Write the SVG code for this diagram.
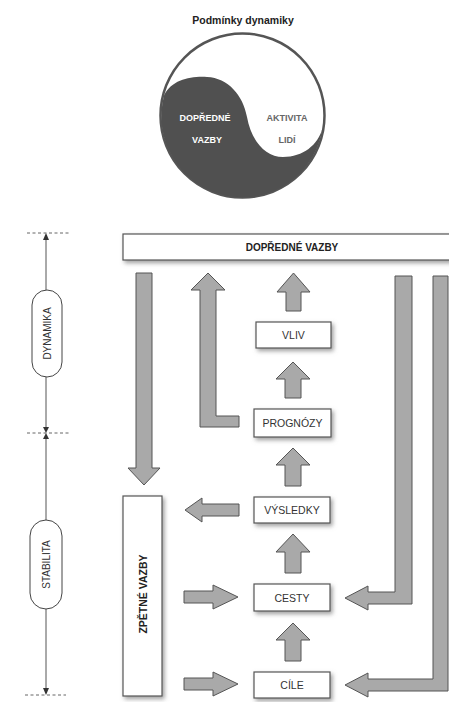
<svg xmlns="http://www.w3.org/2000/svg" width="449" height="702" viewBox="0 0 449 702">
<style>
.t{font-family:"Liberation Sans",Arial,sans-serif;text-anchor:middle}
.box{fill:#fff;stroke:#555;stroke-width:1.2}
.lbl{font-size:10.5px;fill:#333}
.b{font-weight:bold}
.arr{fill:#a9a9a9;stroke:#555;stroke-width:1;stroke-linejoin:miter}
.pill{fill:#fff;stroke:#444;stroke-width:1}
.dash{stroke:#666;stroke-width:1;stroke-dasharray:3,2.5}
.ax{stroke:#555;stroke-width:1;fill:none}
.tri{fill:#333}
</style>
<defs>
<filter id="sh" x="-20%" y="-30%" width="150%" height="180%">
<feDropShadow dx="2" dy="2.5" stdDeviation="2" flood-color="#777" flood-opacity="0.7"/>
</filter>
</defs>
<rect width="449" height="702" fill="#fff"/>

<g id="yinyang">
<text class="t b" x="243" y="24" style="font-size:10.5px;fill:#222">Podmínky dynamiky</text>
<circle cx="242.5" cy="115.5" r="82" fill="#fff" stroke="#555" stroke-width="2.5"/>
<path d="M164.2,95 C172,80 190,76 207,77 C228,78 243,95 247,117 C251,140 265,157 283,157 C303,157 318,145 322.5,128 A81,81 0 1 1 164.2,95 Z" fill="#505050"/>
<text class="t b" x="205" y="121" style="font-size:9px;fill:#fff">DOPŘEDNÉ</text>
<text class="t b" x="207" y="143" style="font-size:9px;fill:#fff">VAZBY</text>
<text class="t b" x="287" y="121" style="font-size:9px;fill:#666">AKTIVITA</text>
<text class="t b" x="287" y="143" style="font-size:9px;fill:#666">LIDÍ</text>
</g>

<g id="scale">
<line class="dash" x1="27" y1="233" x2="70" y2="233"/>
<line class="dash" x1="27" y1="433" x2="70" y2="433"/>
<line class="dash" x1="25" y1="695" x2="66" y2="695"/>
<line class="ax" x1="46" y1="236" x2="46" y2="430"/>
<line class="ax" x1="46" y1="436" x2="46" y2="692"/>
<polygon class="tri" points="46,233 43,240 49,240"/>
<polygon class="tri" points="46,433 43,427 49,427"/>
<polygon class="tri" points="46,433 43,439 49,439"/>
<polygon class="tri" points="46,695 43,688 49,688"/>
</g>

<g id="dynamika">
<rect class="pill" x="32" y="290" width="30" height="87" rx="15"/>
<text class="t lbl" transform="translate(51,333.5) rotate(-90)" style="font-size:10px">DYNAMIKA</text>
</g>
<g id="stabilita">
<rect class="pill" x="30" y="520" width="32" height="89" rx="16"/>
<text class="t lbl" transform="translate(50,564.5) rotate(-90)" style="font-size:10px">STABILITA</text>
</g>

<g id="connectors">
<polygon class="arr" points="286,292 277,292 293.5,273 310,292 301,292 301,311 286,311"/>
<polygon class="arr" points="285,379 276,379 293,362 310,379 301,379 301,398 285,398"/>
<polygon class="arr" points="285,465 276,465 293,448 310,465 301,465 301,486 285,486"/>
<polygon class="arr" points="285,552 276,552 293,534 310,552 301,552 301,573 285,573"/>
<polygon class="arr" points="285,640 276,640 293,623 310,640 301,640 301,661 285,661"/>
<polygon class="arr" points="136,273 152,273 152,468 160,468 144,485 128,468 136,468"/>
<polygon class="arr" points="208,273 225,290 216,290 216,416 239,416 239,427 200,427 200,290 191,290"/>
<polygon class="arr" points="185,510 202,498 202,504 239,504 239,516 202,516 202,522"/>
<polygon class="arr" points="184,591 213,591 213,585 238,597 213,609 213,603 184,603"/>
<polygon class="arr" points="184,678 213,678 213,672 238,684 213,696 213,690 184,690"/>
<polygon class="arr" points="395,276 412,276 412,604 368,604 368,610 345,598 368,586 368,592 395,592"/>
<polygon class="arr" points="433,276 448,276 448,691 368,691 368,697 345,685 368,673 368,679 433,679"/>
</g>

<g id="dopredne">
<rect class="box" x="123" y="234" width="332" height="26" filter="url(#sh)"/>
<text class="t b" x="292" y="251" style="font-size:10px;fill:#222">DOPŘEDNÉ VAZBY</text>
</g>
<g id="zpetne">
<rect class="box" x="123" y="496" width="39" height="200" filter="url(#sh)"/>
<text class="t b" transform="translate(147,594) rotate(-90)" style="font-size:10.5px;fill:#222">ZPĚTNÉ VAZBY</text>
</g>
<g id="vliv">
<rect class="box" x="256" y="322" width="75" height="26" filter="url(#sh)"/>
<text class="t lbl" x="293.5" y="339">VLIV</text>
</g>
<g id="prognozy">
<rect class="box" x="254" y="409" width="77" height="28" filter="url(#sh)"/>
<text class="t lbl" x="292.5" y="427">PROGNÓZY</text>
</g>
<g id="vysledky">
<rect class="box" x="254" y="497" width="76" height="26" filter="url(#sh)"/>
<text class="t lbl" x="292" y="514">VÝSLEDKY</text>
</g>
<g id="cesty">
<rect class="box" x="254" y="584" width="76" height="27" filter="url(#sh)"/>
<text class="t lbl" x="292" y="601.5">CESTY</text>
</g>
<g id="cile">
<rect class="box" x="254" y="672" width="76" height="26" filter="url(#sh)"/>
<text class="t lbl" x="292" y="689">CÍLE</text>
</g>
</svg>
